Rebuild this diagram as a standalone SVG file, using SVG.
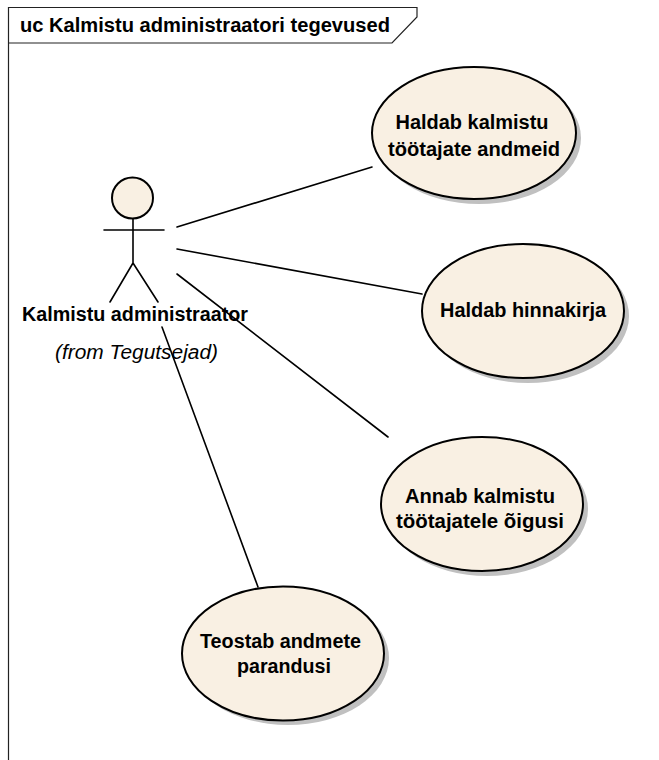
<svg xmlns="http://www.w3.org/2000/svg" width="659" height="760" viewBox="0 0 659 760">
<style>
.l{stroke:#000;stroke-width:1.6;fill:none;stroke-linecap:round}
.e{fill:#f9f0e3;stroke:#000;stroke-width:2}
.s{fill:#c0c0c0}
text{font-family:"Liberation Sans",Arial,sans-serif;font-size:19.500px;font-weight:bold;fill:#000;text-anchor:middle;stroke:none}
</style>
<rect width="659" height="760" fill="#fff"/>
<g id="frame">
<path d="M8.500 760V7.500H417V17L392 43H8.500" fill="none" stroke="#222" stroke-width="1.200"/>
<text x="20" y="31.500" style="text-anchor:start" textLength="370" lengthAdjust="spacingAndGlyphs">uc Kalmistu administraatori tegevused</text>
</g>
<g id="connectors">
<path class="l" d="M177 227L372 167"/>
<path class="l" d="M177 249L422 294"/>
<path class="l" d="M177 274L388 437"/>
<path class="l" d="M162 327L258 587"/>
</g>
<g id="actor">
<circle class="e" cx="132.500" cy="198" r="20.500"/>
<path class="l" d="M133 219V263M104 230H164M133 263L110 302M133 263L158 302"/>
<text x="135" y="321" textLength="226" lengthAdjust="spacingAndGlyphs">Kalmistu administraator</text>
<text x="136.500" y="359" textLength="163" lengthAdjust="spacingAndGlyphs" style="font-weight:normal;font-style:italic">(from Tegutsejad)</text>
</g>
<g id="uc1">
<ellipse class="s" cx="479" cy="138" rx="102" ry="66"/>
<ellipse class="e" cx="474" cy="133" rx="102" ry="66"/>
<text x="472" y="129" textLength="153" lengthAdjust="spacingAndGlyphs">Haldab kalmistu</text>
<text x="474" y="156" textLength="172" lengthAdjust="spacingAndGlyphs">töötajate andmeid</text>
</g>
<g id="uc2">
<ellipse class="s" cx="528" cy="316" rx="101" ry="67"/>
<ellipse class="e" cx="523" cy="311" rx="101" ry="67"/>
<text x="523" y="317" textLength="166" lengthAdjust="spacingAndGlyphs">Haldab hinnakirja</text>
</g>
<g id="uc3">
<ellipse class="s" cx="487" cy="509" rx="101" ry="67"/>
<ellipse class="e" cx="482" cy="504" rx="101" ry="67"/>
<text x="480" y="503" textLength="150" lengthAdjust="spacingAndGlyphs">Annab kalmistu</text>
<text x="480" y="528" textLength="168" lengthAdjust="spacingAndGlyphs">töötajatele õigusi</text>
</g>
<g id="uc4">
<ellipse class="s" cx="288" cy="658" rx="101" ry="67"/>
<ellipse class="e" cx="283" cy="653.500" rx="101" ry="67"/>
<text x="280.500" y="648" textLength="161" lengthAdjust="spacingAndGlyphs">Teostab andmete</text>
<text x="284" y="673" textLength="94" lengthAdjust="spacingAndGlyphs">parandusi</text>
</g>
</svg>
